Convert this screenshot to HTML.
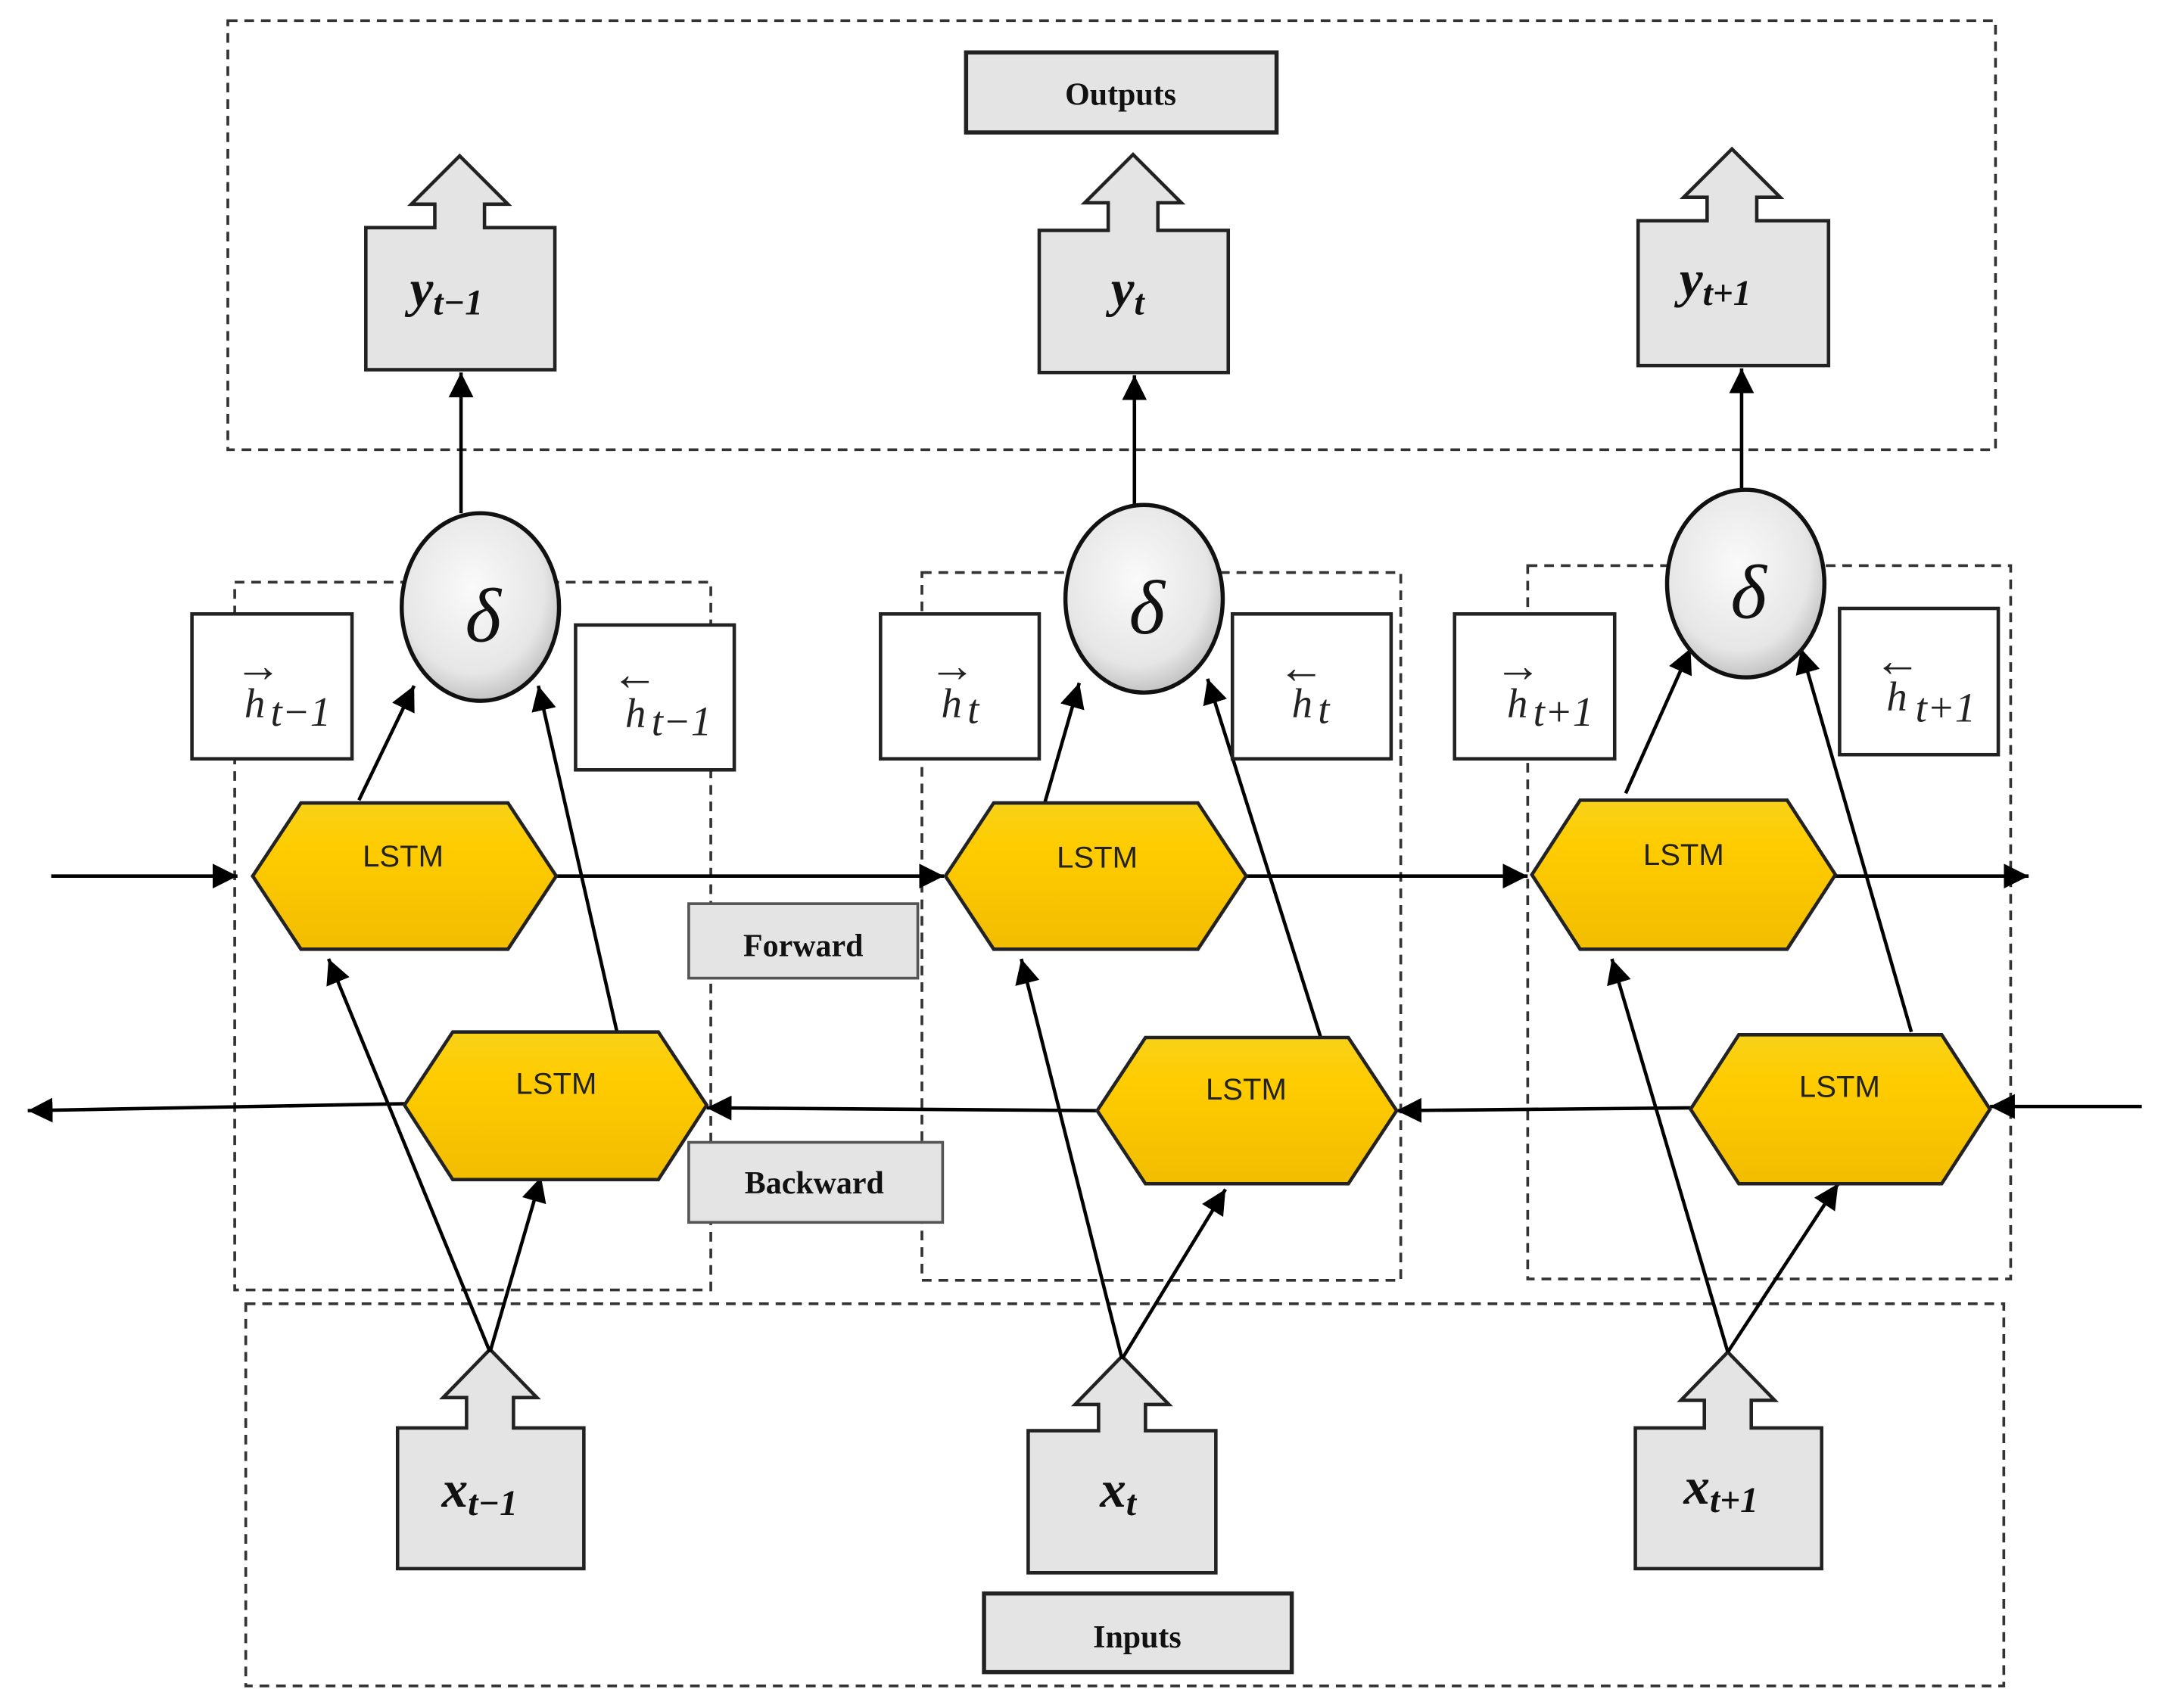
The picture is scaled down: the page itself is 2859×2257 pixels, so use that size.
<!DOCTYPE html>
<html><head><meta charset="utf-8"><style>html,body{margin:0;padding:0;background:#fff}svg{display:block}</style></head><body>
<svg width="2859" height="2257" viewBox="0 0 1568 1238" xmlns="http://www.w3.org/2000/svg">
<defs>
<marker id="a" viewBox="0 0 10 10" refX="10" refY="5" markerWidth="18" markerHeight="18" orient="auto" markerUnits="userSpaceOnUse"><path d="M0,0 L10,5 L0,10 z" fill="#000"/></marker>
<linearGradient id="gold" x1="0" y1="0" x2="0" y2="1"><stop offset="0" stop-color="#f7d21a"/><stop offset="0.3" stop-color="#ffcc00"/><stop offset="1" stop-color="#f2bd00"/></linearGradient>
<radialGradient id="ball" cx="0.45" cy="0.4" r="0.65"><stop offset="0" stop-color="#fafafa"/><stop offset="0.7" stop-color="#e6e6e6"/><stop offset="1" stop-color="#b8b8b8"/></radialGradient>
</defs>
<g fill="none" stroke="#333" stroke-width="2" stroke-dasharray="7,5">
<rect x="165" y="15" width="1281" height="311"/>
<rect x="178" y="945" width="1274" height="277"/>
<rect x="170" y="422" width="345" height="513"/>
<rect x="668" y="415" width="347" height="513"/>
<rect x="1107" y="410" width="350" height="517"/>
</g>
<g font-family="Liberation Serif, serif" font-weight="bold" font-size="23" text-anchor="middle" fill="#111">
<rect x="700" y="38" width="225" height="58" fill="#e4e4e4" stroke="#222" stroke-width="3"/><text x="812" y="76">Outputs</text>
<rect x="713" y="1155" width="223" height="57" fill="#e4e4e4" stroke="#222" stroke-width="3"/><text x="824" y="1194">Inputs</text>
<rect x="499" y="655" width="166" height="54" fill="#e4e4e4" stroke="#555" stroke-width="2"/><text x="582" y="693">Forward</text>
<rect x="499" y="828" width="184" height="58" fill="#e4e4e4" stroke="#555" stroke-width="2"/><text x="590" y="865">Backward</text>
</g>
<g fill="#e4e4e4" stroke="#222" stroke-width="2.5">
<path d="M265,165 L315,165 L315,148 L298,148 L333,113 L368,148 L351,148 L351,165 L402,165 L402,268 L265,268 Z"/>
<path d="M753,167 L803,167 L803,147 L786,147 L821,112 L856,147 L839,147 L839,167 L890,167 L890,270 L753,270 Z"/>
<path d="M1187,160 L1237,160 L1237,143 L1220,143 L1255,108 L1290,143 L1273,143 L1273,160 L1325,160 L1325,265 L1187,265 Z"/>
<path d="M288,1035 L338,1035 L338,1013 L321,1013 L355,978 L389,1013 L372,1013 L372,1035 L423,1035 L423,1137 L288,1137 Z"/>
<path d="M745,1037 L796,1037 L796,1018 L779,1018 L813,983 L847,1018 L830,1018 L830,1037 L881,1037 L881,1140 L745,1140 Z"/>
<path d="M1185,1035 L1235,1035 L1235,1015 L1218,1015 L1252,980 L1286,1015 L1269,1015 L1269,1035 L1320,1035 L1320,1137 L1185,1137 Z"/>
</g>
<g font-family="Liberation Serif, serif" font-style="italic" font-weight="bold" fill="#111">
<text x="297" y="222" font-size="38">y<tspan font-size="26" dy="6">t−1</tspan></text>
<text x="805" y="222" font-size="38">y<tspan font-size="26" dy="6">t</tspan></text>
<text x="1217" y="215" font-size="38">y<tspan font-size="26" dy="6">t+1</tspan></text>
<text x="320" y="1092" font-size="38">x<tspan font-size="26" dy="6">t−1</tspan></text>
<text x="797" y="1092" font-size="38">x<tspan font-size="26" dy="6">t</tspan></text>
<text x="1220" y="1090" font-size="38">x<tspan font-size="26" dy="6">t+1</tspan></text>
</g>
<g stroke="#000" stroke-width="2.5" fill="none" marker-end="url(#a)">
<line x1="334" y1="372" x2="334" y2="270"/>
<line x1="822" y1="367" x2="822" y2="272"/>
<line x1="1262" y1="357" x2="1262" y2="267"/>
<line x1="37" y1="635" x2="172" y2="635"/>
<line x1="403" y1="635" x2="684" y2="635"/>
<line x1="903" y1="635" x2="1107" y2="635"/>
<line x1="1330" y1="635" x2="1470" y2="635"/>
<line x1="1552" y1="802" x2="1442" y2="802"/>
<line x1="1225" y1="803" x2="1012" y2="805"/>
<line x1="795" y1="805" x2="512" y2="803"/>
<line x1="293" y1="800" x2="20" y2="805"/>
<line x1="355" y1="980" x2="238" y2="695"/>
<line x1="355" y1="980" x2="392" y2="853"/>
<line x1="813" y1="985" x2="740" y2="695"/>
<line x1="813" y1="985" x2="888" y2="862"/>
<line x1="1252" y1="980" x2="1168" y2="695"/>
<line x1="1252" y1="980" x2="1332" y2="858"/>
<line x1="260" y1="580" x2="300" y2="497"/>
<line x1="757" y1="582" x2="782" y2="495"/>
<line x1="1178" y1="575" x2="1225" y2="470"/>
<line x1="447" y1="748" x2="390" y2="497"/>
<line x1="957" y1="752" x2="875" y2="492"/>
<line x1="1385" y1="748" x2="1305" y2="470"/>
</g>
<g fill="#fff" stroke="#222" stroke-width="2.5">
<rect x="139" y="445" width="116" height="105"/><rect x="417" y="453" width="115" height="105"/>
<rect x="638" y="445" width="115" height="105"/><rect x="893" y="445" width="115" height="105"/>
<rect x="1054" y="445" width="116" height="105"/><rect x="1333" y="441" width="115" height="106"/>
</g>
<g font-family="Liberation Serif, serif" font-style="italic" fill="#222" font-size="30">
<text x="177" y="520">h<tspan dx="4" dy="6">t−1</tspan></text><text x="170" y="494" font-style="normal" font-size="34">→</text>
<text x="453" y="527">h<tspan dx="4" dy="6">t−1</tspan></text><text x="443" y="500" font-style="normal" font-size="34">←</text>
<text x="682" y="520">h<tspan dx="4" dy="4">t</tspan></text><text x="673" y="494" font-style="normal" font-size="34">→</text>
<text x="936" y="520">h<tspan dx="4" dy="4">t</tspan></text><text x="926" y="495" font-style="normal" font-size="34">←</text>
<text x="1092" y="520">h<tspan dx="4" dy="6">t+1</tspan></text><text x="1083" y="494" font-style="normal" font-size="34">→</text>
<text x="1367" y="515">h<tspan dx="6" dy="8">t+1</tspan></text><text x="1358" y="490" font-style="normal" font-size="34">←</text>
</g>
<g fill="url(#ball)" stroke="#111" stroke-width="3">
<ellipse cx="348" cy="440" rx="57" ry="68"/><ellipse cx="829" cy="434" rx="57" ry="68"/><ellipse cx="1265" cy="423" rx="57" ry="68"/>
</g>
<g font-family="Liberation Serif, serif" font-style="italic" font-size="56" text-anchor="middle" fill="#111">
<text x="350" y="465">δ</text><text x="831" y="459">δ</text><text x="1267" y="448">δ</text>
</g>
<g fill="url(#gold)" stroke="#222" stroke-width="2.5">
<polygon points="183,635 218,582 368,582 403,635 368,688 218,688"/>
<polygon points="685,635 720,582 868,582 903,635 868,688 720,688"/>
<polygon points="1110,634 1145,580 1295,580 1330,634 1295,688 1145,688"/>
<polygon points="293,801 328,748 477,748 512,801 477,855 328,855"/>
<polygon points="795,805 830,752 977,752 1012,805 977,858 830,858"/>
<polygon points="1225,804 1260,750 1407,750 1442,804 1407,858 1260,858"/>
</g>
<g font-family="Liberation Sans, sans-serif" font-size="22" text-anchor="middle" fill="#222">
<text x="292" y="628">LSTM</text><text x="795" y="629">LSTM</text><text x="1220" y="627">LSTM</text>
<text x="403" y="793">LSTM</text><text x="903" y="797">LSTM</text><text x="1333" y="795">LSTM</text>
</g>
</svg>
</body></html>
